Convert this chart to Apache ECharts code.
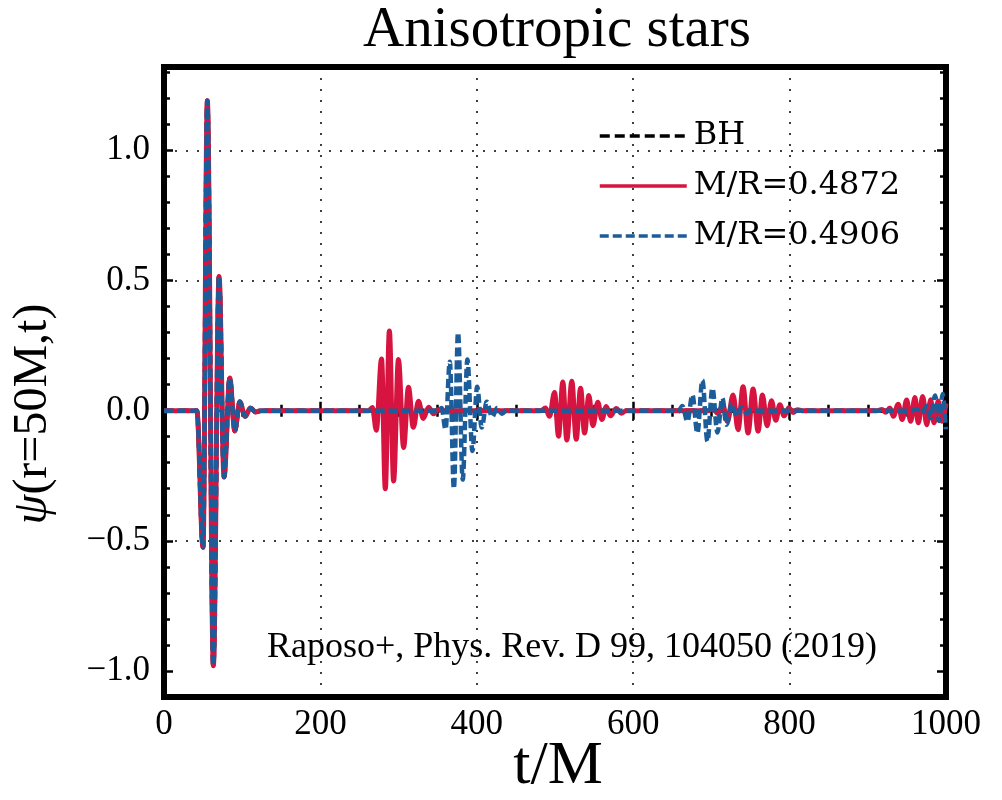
<!DOCTYPE html>
<html><head><meta charset="utf-8">
<script src="https://cdn.jsdelivr.net/npm/echarts@6/dist/echarts.min.js"></script>
<style>html,body{margin:0;padding:0;background:#fff}#c{width:1002px;height:800px}</style>
</head><body><div id="c"></div>
<script>
// ---- data: [t/M, psi] at extrema / rest points ----
const seriesNames = ['BH', 'M/R=0.4872', 'M/R=0.4906'];
const burst = [[0,0],[42,0],[49.9,-0.525],[55.4,1.19],[63.1,-0.98],[70.4,0.515],[76.8,-0.255],[84.1,0.125],[90.5,-0.078],[96.9,0.034],[103.7,-0.022],[110.5,0.01],[117,-0.005],[124,0]];
const bhTail = [[1000,0]];
const redEcho1 = [[262,0],[266.5,0.012],[271.5,-0.075],[278.2,0.198],[283,-0.30],[288.2,0.306],[293.6,-0.27],[299.8,0.196],[306.4,-0.142],[312.6,0.09],[318.8,-0.064],[325.4,0.036],[331.5,-0.03],[338.5,0.013],[344.5,-0.012],[351,0.004],[357,0]];
const redEcho2 = [[482,0],[487.8,0.01],[493,-0.022],[499.4,0.07],[504.5,-0.098],[510,0.11],[515.1,-0.113],[521.5,0.113],[527.1,-0.11],[532.7,0.086],[537.8,-0.086],[543.3,0.058],[548.4,-0.058],[554.8,0.032],[559.9,-0.034],[565.6,0.016],[570.7,-0.02],[578.4,0.008],[584.8,-0.01],[591,0]];
const redEcho3 = [[696,0],[702,0.006],[708.5,-0.012],[714.5,0.022],[720.5,-0.042],[727.7,0.06],[734.1,-0.073],[740.5,0.092],[746.9,-0.086],[753.3,0.083],[759.7,-0.079],[765.3,0.06],[771.2,-0.058],[776.8,0.038],[782.3,-0.037],[787.5,0.023],[793,-0.02],[799,0.011],[804.5,-0.007],[810,0.003],[816,0]];
const redEcho4 = [[912,0],[918,0.004],[923,-0.006],[928.3,0.01],[932.6,-0.022],[938.9,0.025],[944,-0.034],[949.7,0.041],[954.8,-0.041],[960.3,0.05],[964.5,-0.047],[970.2,0.054],[975.3,-0.054],[980.4,0.042],[984.6,-0.047],[990.1,0.036],[994.9,-0.041],[1000,0.028]];
const blueEcho1 = [[351,0],[355,0.01],[360,-0.072],[365.5,0.188],[370.7,-0.30],[376,0.30],[382,-0.265],[388,0.196],[394.4,-0.155],[400.5,0.092],[406.3,-0.065],[412.7,0.034],[419.6,-0.024],[426,0.01],[432.4,-0.012],[438.5,0.004],[445,0]];
const blueEcho2 = [[651,0],[657,-0.006],[663,0.018],[669.3,-0.042],[675.7,0.06],[682.1,-0.086],[688.5,0.117],[694.9,-0.118],[701.3,0.086],[707.7,-0.084],[714.1,0.048],[719.3,-0.054],[726,0.027],[732.4,-0.022],[738.8,0.013],[745,-0.01],[751.6,0.005],[758,0]];
const blueEcho3 = [[956,0],[963,0.005],[969,-0.01],[975,0.018],[980.5,-0.028],[986,0.058],[991,-0.04],[995.8,0.064],[999.8,-0.072]];

const bhData = burst.concat(bhTail);
const redData = burst.concat(redEcho1, redEcho2, redEcho3, redEcho4);
const blueData = burst.concat(blueEcho1, blueEcho2, blueEcho3);

const SERIF = 'Liberation Serif';
const tickStyle = {color:'#000', width:2.5};
const gridLine = {show:true, lineStyle:{color:'#000', width:1.5, type:[2,9]}};
const fmtY = v => (v < 0 ? '\u2212' + (-v).toFixed(1) : v.toFixed(1));
const Y_MIN = -1.1, Y_MAX = 1.32;

function yTickAxis(pos, major) {
  const ax = {type:'value', min:Y_MIN, max:Y_MAX, position:pos, z:3,
    axisLine:{show:false}, splitLine:{show:false}, axisLabel:{show:false},
    axisTick:{inside:true, length: major ? 9 : 6, lineStyle:tickStyle}};
  if (major) ax.splitNumber = 5; else ax.interval = 0.1;
  return ax;
}

const chart = echarts.init(document.getElementById('c'), null, {renderer:'canvas'});
chart.setOption({
  animation:false,
  backgroundColor:'#fff',
  grid:{left:164, top:67, width:782, height:630, show:true, borderColor:'#000', borderWidth:6, backgroundColor:'transparent'},
  xAxis:[
    {type:'value', min:0, max:1000, interval:200, position:'bottom', z:3,
     axisLine:{show:false},
     axisTick:{inside:true, length:9, lineStyle:tickStyle},
     minorTick:{show:true, splitNumber:4, length:6, lineStyle:tickStyle},
     splitLine:gridLine,
     axisLabel:{fontFamily:SERIF, fontSize:35, color:'#000', margin:10, formatter:v=>String(v)}},
    {type:'value', min:0, max:1000, interval:200, position:'top', z:3,
     axisLine:{show:false},
     axisTick:{inside:true, length:9, lineStyle:tickStyle},
     minorTick:{show:true, splitNumber:4, length:6, lineStyle:tickStyle},
     splitLine:{show:false}, axisLabel:{show:false}}
  ],
  yAxis:[
    {type:'value', min:Y_MIN, max:Y_MAX, splitNumber:5, position:'left', z:0,
     axisLine:{show:false}, axisTick:{show:false},
     splitLine:gridLine,
     axisLabel:{fontFamily:SERIF, fontSize:35, color:'#000', margin:14, showMinLabel:false, showMaxLabel:false, formatter:fmtY}},
    yTickAxis('left', true),
    yTickAxis('left', false),
    yTickAxis('right', true),
    yTickAxis('right', false)
  ],
  legend:{
    data:seriesNames, orient:'vertical', left:593, top:113,
    itemWidth:87, itemHeight:14, itemGap:14, selectedMode:false,
    itemStyle:{opacity:0, color:'transparent', borderColor:'transparent', borderWidth:0},
    lineStyle:{width:3.5},
    textStyle:{fontFamily:'DejaVu Serif', fontSize:32, lineHeight:36, color:'#000', padding:[0,0,0,2]}
  },
  series:[
    {name:seriesNames[0], type:'line', data:bhData, symbol:'none', showSymbol:false,
     smooth:0.35, smoothMonotone:'x', itemStyle:{color:'#000'},
     lineStyle:{color:'#000', width:4.5, type:[10,5]}},
    {name:seriesNames[1], type:'line', data:redData, symbol:'none', showSymbol:false,
     smooth:0.35, smoothMonotone:'x', itemStyle:{color:'#d7143f'},
     lineStyle:{color:'#d7143f', width:5, type:'solid'}},
    {name:seriesNames[2], type:'line', data:blueData, symbol:'none', showSymbol:false,
     smooth:0.35, smoothMonotone:'x', itemStyle:{color:'#1c5d99'},
     lineStyle:{color:'#1c5d99', width:4.5, type:[9,4]}}
  ],
  graphic:[
    {type:'text', x:557, y:31, z:100,
     style:{text:'Anisotropic stars', fontFamily:SERIF, fontSize:57, fill:'#000', align:'center', verticalAlign:'middle'}},
    {type:'text', x:558, y:767, z:100,
     style:{text:'t/M', fontFamily:SERIF, fontSize:62, fill:'#000', align:'center', verticalAlign:'middle'}},
    {type:'text', x:33, y:414, rotation:Math.PI/2, z:100,
     style:{text:'{i|\u03C8}(r=50M,t)', fontFamily:SERIF, fontSize:48, fill:'#000', align:'center', verticalAlign:'middle',
            rich:{i:{fontFamily:SERIF, fontSize:48, fontStyle:'italic', fill:'#000'}}}},
    {type:'rect', z:1, shape:{x:168, y:612, width:774, height:61}, style:{fill:'#fff'}},
    {type:'text', x:572, y:648, z:1,
     style:{text:'Raposo+, Phys. Rev. D 99, 104050 (2019)', fontFamily:SERIF, fontSize:36, fill:'#000',
            align:'center', verticalAlign:'middle'}}
  ]
});
</script></body></html>
